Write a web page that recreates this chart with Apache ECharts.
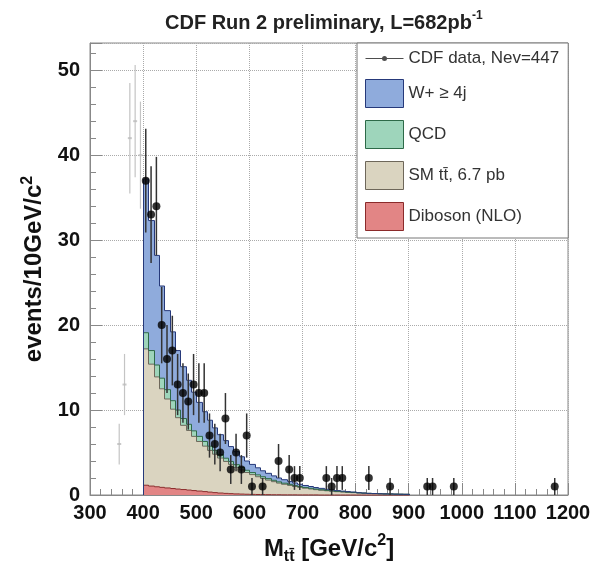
<!DOCTYPE html>
<html><head><meta charset="utf-8">
<script src="https://cdn.jsdelivr.net/npm/echarts@6/dist/echarts.min.js"></script>
<style>html,body{margin:0;padding:0;background:#fff}#c{width:598px;height:570px}</style>
</head><body><div id="c"></div>
<script>
// ---- data ----
const binWidth = 10;
const binLow = [400,410,420,430,440,450,460,470,480,490,500,510,520,530,540,550,560,570,580,590,
                600,610,620,630,640,650,660,670,680,690,700,710,720,730,740,750,760,770,780,790,
                800,810,820,830,840,850,860,870,880,890];
const diboson = [1.15,1.05,0.97,0.9,0.83,0.76,0.7,0.64,0.58,0.52,0.46,0.4,0.34,0.28,0.23,0.19,0.16,0.13,0.11,0.09,
                 0.07,0.06,0.05,0.04,0.03,0.03,0.02,0.02,0.02,0.01,0.01,0.01,0.01,0,0,0,0,0,0,0,
                 0,0,0,0,0,0,0,0,0,0];
const ttbar = [16.05,14.35,12.93,11.6,10.47,9.34,8.4,7.56,7.02,6.38,5.84,5.35,4.91,4.52,4.12,3.76,3.44,3.12,2.84,2.56,
               2.33,2.09,1.9,1.71,1.54,1.37,1.24,1.11,0.98,0.89,0.79,0.7,0.62,0.56,0.5,0.44,0.39,0.35,0.31,0.28,
               0.25,0.22,0.19,0.17,0.15,0.13,0.12,0.1,0.09,0.08];
const qcd = [1.9,1.6,1.4,1.25,1.1,1.0,0.9,0.8,0.72,0.65,0.6,0.55,0.5,0.45,0.42,0.38,0.35,0.32,0.29,0.26,
             0.24,0.22,0.2,0.18,0.16,0.15,0.13,0.12,0.11,0.1,0.09,0.08,0.07,0.06,0.05,0.05,0.04,0.04,0.03,0.03,
             0,0,0,0,0,0,0,0,0,0];
const wjets = [18.1,15.3,12.9,10.85,9.3,8.1,7.0,6.1,5.18,4.55,4.0,3.5,3.05,2.65,2.33,2.07,1.75,1.53,1.26,1.09,
               0.96,0.83,0.7,0.62,0.52,0.45,0.41,0.35,0.31,0.26,0.23,0.21,0.18,0.16,0.13,0.11,0.09,0.07,0.06,0.04,
               0.02,0.01,0,0,0,0,0,0,0,0];
const dataMass  = [405,415,425,435,445,455,465,475,485,495,505,515,525,535,545,555,565,575,585,595,
                   605,625,655,675,685,695,745,755,765,775,825,865,935,945,985,1175];
const dataCount = [37,33,34,20,16,17,13,12,11,13,12,12,7,6,5,9,3,5,3,7,
                   1,1,4,3,2,2,2,1,2,2,2,1,1,1,1,1];
const dataErr   = [6.1,5.7,5.8,4.5,4.0,4.1,3.6,3.5,3.3,3.6,3.5,3.5,2.6,2.4,2.2,3.0,1.7,2.2,1.7,2.6,
                   1,1,2,1.7,1.4,1.4,1.4,1,1.4,1.4,1.4,1,1,1,1,1];
const lowMass  = [355,365,375,385,395];
const lowCount = [6,13,42,44,40];
const lowErr   = [2.4,3.6,6.5,6.6,6.3];
const xTicks = {min:300, max:1200, step:100};
const yTicks = {min:0, max:53.2, step:10};
const seriesNames = ['CDF data, Nev=447','W+ \u2265 4j','QCD','SM tt\u0304, 6.7 pb','Diboson (NLO)'];

// ---- chart ----
const FONT = '"Liberation Sans", Arial, Helvetica, sans-serif';
const chart = echarts.init(document.getElementById('c'));

function sumAt(arrs, i){ return arrs.reduce((s,a)=>s+a[i],0); }

function histSeries(name, fill, edge, values, lowers){
  const n = binLow.length;
  const items = binLow.map((x,i)=>{
    const base = sumAt(lowers,i);
    const prev = i===0 ? 0 : sumAt(lowers,i-1)+values[i-1];
    return [x, x+binWidth, base, base+values[i], prev, i===n-1?1:0];
  });
  return {
    type:'custom', name, coordinateSystem:'cartesian2d', data:items,
    encode:{x:[0,1], y:[2,3]}, itemStyle:{color:fill}, silent:true,
    renderItem:(params, api)=>{
      const x0=api.value(0), x1=api.value(1), b=api.value(2), t=api.value(3), pv=api.value(4), last=api.value(5);
      const a=api.coord([x0,b]), c=api.coord([x1,t]), p=api.coord([x0,pv]);
      const X0=Math.round(a[0]), X1=Math.round(c[0]);
      const Yb=a[1], Yt=c[1];
      const pts=[[X0+0.5,p[1]],[X0+0.5,Yt],[X1+0.5,Yt]];
      if(last){ pts.push([X1+0.5, api.coord([x1,0])[1]]); }
      return {type:'group', children:[
        {type:'rect', shape:{x:X0,y:Yt,width:X1-X0,height:Math.max(0,Yb-Yt)}, style:{fill:fill}, z2:0},
        {type:'polyline', shape:{points:pts}, style:{stroke:edge, lineWidth:1, fill:null}, z2:10}
      ]};
    }
  };
}

function errSeries(xs, ys, es, color, width){
  return {
    type:'custom', coordinateSystem:'cartesian2d', silent:true, z:4,
    data: xs.map((x,i)=>[x, Math.max(0, ys[i]-es[i]), ys[i]+es[i]]),
    encode:{x:0, y:[1,2]},
    renderItem:(params, api)=>{
      const a=api.coord([api.value(0),api.value(1)]), b=api.coord([api.value(0),api.value(2)]);
      return {type:'line', shape:{x1:a[0],y1:a[1],x2:b[0],y2:b[1]}, style:{stroke:color,lineWidth:width}, z2:20};
    }
  };
}

const colW=['#8fabdc','#26397a'], colQ=['#9ed5bb','#2d6a48'], colT=['#dad4c0','#6e675a'], colD=['#e28585','#8b2a2a'];

const option = {
  animation:false,
  title:{
    text:'{a|CDF Run 2 preliminary, L=682pb}{s|-1}',
    left:160, top:5,
    textStyle:{rich:{
      a:{fontSize:20,fontWeight:'bold',color:'#222',fontFamily:FONT,lineHeight:26},
      s:{fontSize:12,fontWeight:'bold',color:'#222',fontFamily:FONT,verticalAlign:'top'}
    }}
  },
  legend:{
    orient:'vertical', left:357, top:43,
    padding:[7,9,7,8], itemGap:12, itemWidth:38, itemHeight:28,
    backgroundColor:'#fff', borderColor:'#777', borderWidth:1,
    symbolKeepAspect:true,
    textStyle:{fontSize:17,color:'#333',fontFamily:FONT},
    data:[
      {name:seriesNames[0], icon:'path://M0,13.5h38v1h-38z M19,11.5a2.5,2.5 0 1 1 0,5a2.5,2.5 0 1 1 0,-5z', itemStyle:{color:'#222'}},
      {name:seriesNames[1], icon:'rect', itemStyle:{color:colW[0], borderColor:colW[1], borderWidth:1}},
      {name:seriesNames[2], icon:'rect', itemStyle:{color:colQ[0], borderColor:colQ[1], borderWidth:1}},
      {name:seriesNames[3], icon:'rect', itemStyle:{color:colT[0], borderColor:colT[1], borderWidth:1}},
      {name:seriesNames[4], icon:'rect', itemStyle:{color:colD[0], borderColor:colD[1], borderWidth:1}}
    ],
    selectedMode:false
  },
  grid:{left:90, right:30, top:43, bottom:69, show:true, borderColor:'#888', borderWidth:1},
  xAxis:{
    type:'value', min:xTicks.min, max:xTicks.max, interval:xTicks.step,
    axisLine:{show:true, onZero:false, lineStyle:{color:'#888'}},
    axisTick:{show:true, inside:true, length:12, lineStyle:{color:'#888'}},
    minorTick:{show:true, splitNumber:5, length:6, lineStyle:{color:'#888'}},
    splitLine:{show:true, lineStyle:{color:'#aaa', type:'dotted'}},
    axisLabel:{fontSize:20, fontWeight:'bold', color:'#111', margin:8, fontFamily:FONT, formatter:v=>String(v)},
    name:'{m|M}{s|tt\u0304}{m| [GeV/c}{p|2}{m|]}', nameLocation:'middle', nameGap:38,
    nameTextStyle:{rich:{
      m:{fontSize:24,fontWeight:'bold',color:'#111',fontFamily:FONT,lineHeight:32},
      s:{fontSize:16,fontWeight:'bold',color:'#111',fontFamily:FONT,verticalAlign:'bottom'},
      p:{fontSize:16,fontWeight:'bold',color:'#111',fontFamily:FONT,verticalAlign:'top'}
    }}
  },
  yAxis:{
    type:'value', min:yTicks.min, max:yTicks.max, interval:yTicks.step,
    axisLine:{show:true, lineStyle:{color:'#888'}},
    axisTick:{show:true, inside:true, length:12, lineStyle:{color:'#888'}},
    minorTick:{show:true, splitNumber:5, length:6, lineStyle:{color:'#888'}},
    splitLine:{show:true, lineStyle:{color:'#aaa', type:'dotted'}},
    axisLabel:{fontSize:20, fontWeight:'bold', color:'#111', margin:10, fontFamily:FONT,
      formatter:v=> (Math.abs(v % yTicks.step) < 1e-6 ? String(v) : '')},
    name:'{m|events/10GeV/c}{p|2}', nameLocation:'middle', nameGap:35,
    nameTextStyle:{rich:{
      m:{fontSize:24,fontWeight:'bold',color:'#111',fontFamily:FONT,lineHeight:30},
      p:{fontSize:16,fontWeight:'bold',color:'#111',fontFamily:FONT,verticalAlign:'top'}
    }}
  },
  series:[
    histSeries(seriesNames[4], colD[0], colD[1], diboson, []),
    histSeries(seriesNames[3], colT[0], colT[1], ttbar, [diboson]),
    histSeries(seriesNames[2], colQ[0], colQ[1], qcd, [diboson, ttbar]),
    histSeries(seriesNames[1], colW[0], colW[1], wjets, [diboson, ttbar, qcd]),
    errSeries(lowMass, lowCount, lowErr, '#c4c4c4', 1.2),
    {type:'scatter', silent:true, symbol:'rect', symbolSize:[4,2], itemStyle:{color:'#bbb'}, z:5,
     data: lowMass.map((m,i)=>[m, lowCount[i]])},
    errSeries(dataMass, dataCount, dataErr, '#333', 1.5),
    {type:'scatter', name:seriesNames[0], silent:true, symbol:'circle', symbolSize:8, itemStyle:{color:'#000'}, z:6,
     data: dataMass.map((m,i)=>[m, dataCount[i]])}
  ]
};
chart.setOption(option);
</script></body></html>
